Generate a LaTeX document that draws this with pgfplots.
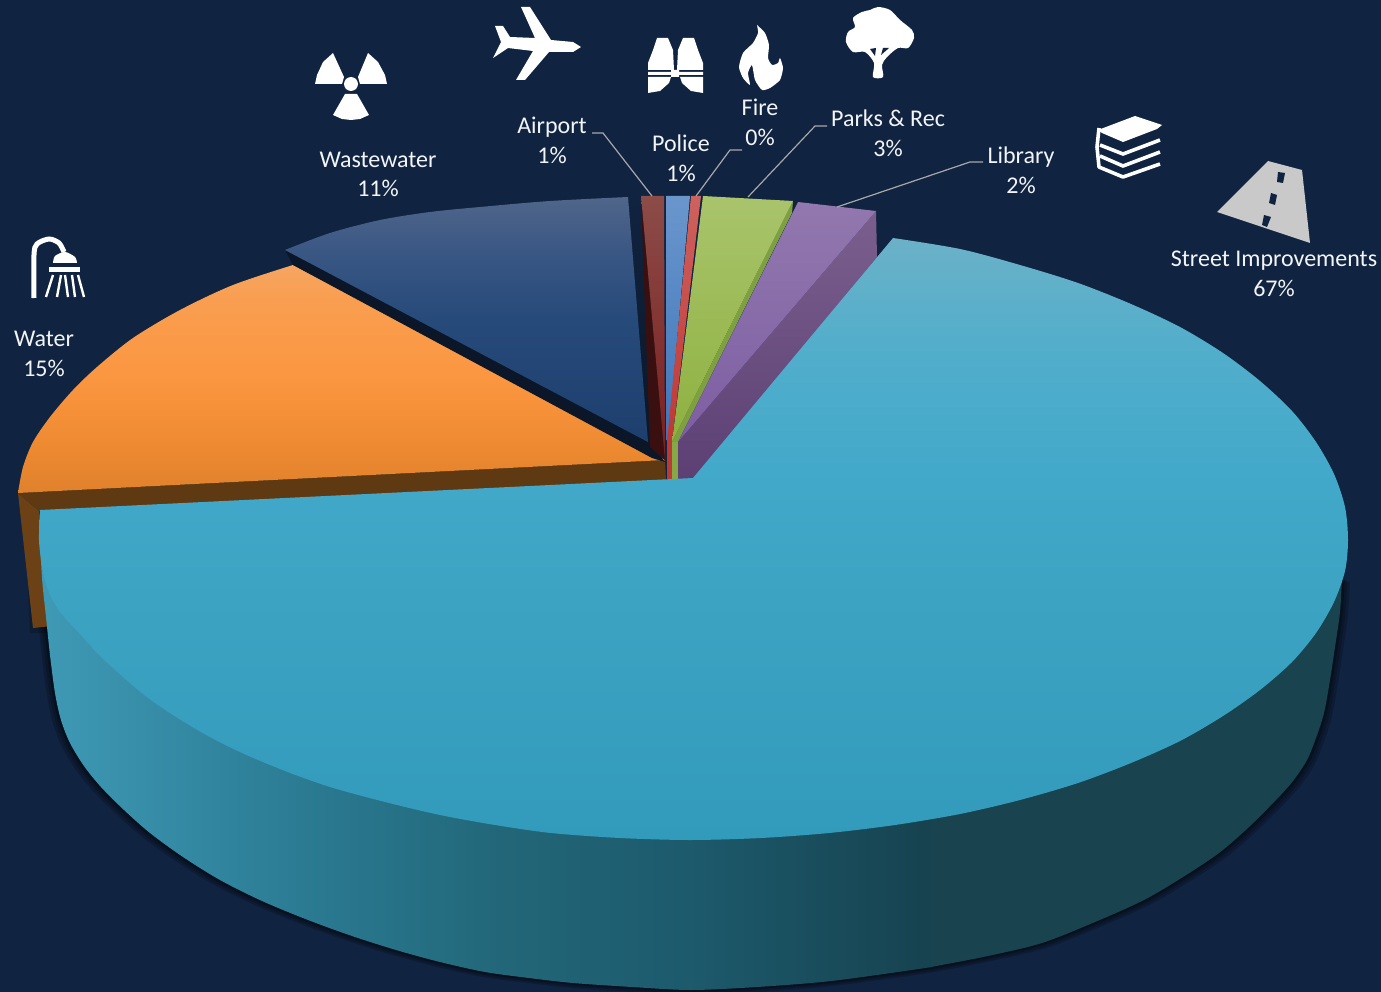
\documentclass[border=0pt]{standalone}
\usepackage{fontspec}
\setmainfont{Carlito}
\usepackage{pgfplots}
\usepackage{pgfplotstable}
\pgfplotsset{compat=1.18}

\definecolor{bgc}{HTML}{102340}
\definecolor{leader}{HTML}{A8A8A8}
\definecolor{lbl}{HTML}{F2F4F6}
\definecolor{road}{HTML}{C9C9C9}
\definecolor{cutdark}{HTML}{0B1728}

% top face of the big slice
\definecolor{st1}{HTML}{6BB1C8}
\definecolor{st2}{HTML}{52AECB}
\definecolor{st3}{HTML}{43A9CA}
\definecolor{st4}{HTML}{3DA3C3}
\definecolor{st5}{HTML}{329ABB}
\pgfdeclareverticalshading{streettop}{100bp}{color(0bp)=(st5); color(25bp)=(st5); color(45bp)=(st4); color(56bp)=(st3); color(66bp)=(st2); color(75bp)=(st1); color(100bp)=(st1)}

% side wall of the big slice
\definecolor{sw1}{HTML}{3F9AB6}
\definecolor{sw2}{HTML}{2B7B93}
\definecolor{sw3}{HTML}{226779}
\definecolor{sw4}{HTML}{1C5A6C}
\definecolor{sw5}{HTML}{17424F}
\pgfdeclarehorizontalshading{streetside}{100bp}{color(0bp)=(sw1); color(25bp)=(sw1); color(39.6bp)=(sw2); color(50.8bp)=(sw3); color(61.4bp)=(sw4); color(75bp)=(sw5); color(100bp)=(sw5)}

% top face of water
\definecolor{or1}{HTML}{F6A562}
\definecolor{or2}{HTML}{F99E50}
\definecolor{or3}{HTML}{FB9640}
\definecolor{or4}{HTML}{EF8B32}
\definecolor{or5}{HTML}{E0812C}
\pgfdeclareverticalshading{watertop}{100bp}{color(0bp)=(or5); color(25bp)=(or5); color(36.6bp)=(or4); color(49.8bp)=(or3); color(67.3bp)=(or2); color(75bp)=(or1); color(100bp)=(or1)}

% top face of wastewater
\definecolor{ww1}{HTML}{50668A}
\definecolor{ww2}{HTML}{3A5784}
\definecolor{ww3}{HTML}{264A7A}
\definecolor{ww4}{HTML}{1E3F6E}
\pgfdeclareverticalshading{wastetop}{100bp}{color(0bp)=(ww4); color(25bp)=(ww4); color(50bp)=(ww3); color(64bp)=(ww2); color(75bp)=(ww1); color(100bp)=(ww1)}

% lower outline of the big slice, pixels
\pgfplotstableread{
x y
39 540
42 578
46 617
50 655
55 693
61 720
70 743
84 766
101 787
124 810
150 833
183 857
220 880
262 901
308 920
352 936
396 950
440 962
485 972
529 978
573 983
632 987
691 990
757 987
822 982
877 975
932 967
988 956
1042 943
1095 922
1144 900
1183 877
1219 853
1249 827
1276 800
1293 781
1307 760
1316 738
1324 713
1330 680
1335 647
1340 612
1342 577
}\outeredge

\begin{document}
\begin{tikzpicture}
\begin{axis}[
  width=1381pt, height=992pt, scale only axis,
  xmin=0, xmax=1381, ymin=0, ymax=992,
  y dir=reverse, hide axis,
]
% background
\addplot[fill=bgc, draw=none] coordinates {(0,0) (1381,0) (1381,992) (0,992)} -- cycle;

% soft shadow under the big slice
\addplot[fill=black, opacity=.18, draw=none, smooth] table[x expr={691+(\thisrow{x}-691)*1.012}, y expr={\thisrow{y}+5}] {\outeredge} -- cycle;
\addplot[fill=black, opacity=.2, draw=none, smooth] table[x expr={691+(\thisrow{x}-691)*1.008}, y expr={\thisrow{y}+3.4}] {\outeredge} -- cycle;
\addplot[fill=black, opacity=.25, draw=none, smooth] table[x expr={691+(\thisrow{x}-691)*1.004}, y expr={\thisrow{y}+1.7}] {\outeredge} -- cycle;

% water
\addplot[fill=black, opacity=.2, draw=none] coordinates {(28,590) (30,633) (50,633) (50,590)} -- cycle;
\addplot[fill={rgb,255:red,107;green,65;blue,21}, draw=none] coordinates {(18,493) (33,628) (52,626) (39,511)} -- cycle;
\addplot[fill={rgb,255:red,95;green,57;blue,17}, draw=none] coordinates {(18,493) (665,460) (666,480) (39,511)} -- cycle;
\addplot[shade, shading=watertop, draw=none, smooth]
  coordinates {(18,493) (23,467) (33,442) (50,417) (73,390) (97,367) (133,338) (180,310) (233,285) (293,265)} -- (axis cs:665,460) -- cycle;

% wastewater, with its dark cut faces
\addplot[fill=cutdark, draw=none] coordinates {(285,250) (293,265) (652,458) (665,462) (648,442)} -- cycle;
\addplot[top color=bgc, bottom color=cutdark, draw=none] coordinates {(628,197) (641,196) (652,450) (648,442)} -- cycle;
\addplot[shade, shading=wastetop, draw=none, smooth]
  coordinates {(285,250) (330,233) (380,220) (430,212) (480,207) (550,201) (628,197)} -- (axis cs:648,442) -- cycle;

% airport
\addplot[fill={rgb,255:red,58;green,15;blue,15}, draw=none] coordinates {(641,196) (650,447) (665,460)} -- cycle;
\addplot[top color={rgb,255:red,140;green,76;blue,72}, bottom color={rgb,255:red,122;green,30;blue,30}, draw=none] coordinates {(641,196) (664,196) (665,460)} -- cycle;

% police
\addplot[top color={rgb,255:red,106;green,150;blue,204}, bottom color={rgb,255:red,62;green,118;blue,186}, draw=none] coordinates {(666,196) (690,196) (668,440) (666,440)} -- cycle;

% fire
\addplot[top color={rgb,255:red,206;green,98;blue,94}, bottom color={rgb,255:red,190;green,56;blue,54}, draw=none] coordinates {(691,196) (701,196) (672,441) (667,441)} -- cycle;
\addplot[fill={rgb,255:red,185;green,58;blue,54}, draw=none] coordinates {(667,440) (672,440) (672,479) (667,479)} -- cycle;

% parks & rec
\addplot[fill={rgb,255:red,127;green,160;blue,64}, draw=none] coordinates {(793,201) (792,213) (678,442) (672,442)} -- cycle;
\addplot[top color={rgb,255:red,169;green,196;blue,108}, middle color={rgb,255:red,154;green,186;blue,80}, bottom color={rgb,255:red,142;green,177;blue,64}, draw=none] coordinates {(703,196) (793,201) (672,442)} -- cycle;
\addplot[fill={rgb,255:red,134;green,168;blue,69}, draw=none] coordinates {(672,442) (678,442) (678,479) (672,479)} -- cycle;

% library
\addplot[top color={rgb,255:red,122;green,95;blue,142}, bottom color={rgb,255:red,92;green,64;blue,116}, draw=none] coordinates {(876,211) (877,257) (693,480) (678,480) (678,442)} -- cycle;
\addplot[top color={rgb,255:red,146;green,120;blue,174}, bottom color={rgb,255:red,125;green,94;blue,163}, draw=none] coordinates {(798,202) (876,211) (678,442)} -- cycle;

% street improvements: side wall, then the top face
\addplot[shade, shading=streetside, draw=none, smooth]
  coordinates {(39,520) (42,578) (46,617) (50,655) (55,693) (61,720) (70,743) (84,766) (101,787) (124,810) (150,833) (183,857) (220,880) (262,901) (308,920) (352,936) (396,950) (440,962) (485,972) (529,978) (573,983) (632,987) (691,990) (757,987) (822,982) (877,975) (932,967)} -- (axis cs:932,600) -- cycle;
\addplot[fill={rgb,255:red,24;green,67;blue,79}, draw=none, smooth]
  coordinates {(931,967) (988,956) (1042,943) (1095,922) (1144,900) (1183,877) (1219,853) (1249,827) (1276,800) (1293,781) (1307,760) (1316,738) (1324,713) (1330,680) (1335,647) (1340,612) (1342,577)} -- (axis cs:931,600) -- cycle;
\addplot[shade, shading=streettop, draw=none, smooth]
  coordinates {(893,238) (960,249) (1020,265) (1078,283) (1131,304) (1180,327) (1223,353) (1260,381) (1292,411) (1316,442) (1334,474) (1345,507) (1348,540) (1345,571) (1334,602) (1316,633) (1292,662) (1260,690) (1223,716) (1180,741) (1131,763) (1078,783) (1020,800) (960,814) (895,825) (829,833) (761,838) (690,840) (620,838) (551,833) (495,825) (440,815) (385,802) (330,787) (285,771) (242,753) (208,736) (176,717) (148,698) (123,677) (100,656) (79,633) (60,612) (48,590) (42,566) (39,540) (40,510)} -- (axis cs:693,478) -- cycle;

% leader lines
\addplot[leader, line width=1.2pt] coordinates {(592,133) (603,133) (652,196)};
\addplot[leader, line width=1.2pt] coordinates {(742,150) (730,150) (696,196)};
\addplot[leader, line width=1.2pt] coordinates {(827,126) (815,126) (748,197)};
\addplot[leader, line width=1.2pt] coordinates {(983,162) (970,162) (837,207)};

% icons: radiation
\addplot[fill=white, draw=none] coordinates {(344,77) (333,53) (323,62) (317,75) (315,84) (342,84)} -- cycle;
\addplot[fill=white, draw=none] coordinates {(358,77) (368,53) (378,62) (385,75) (387,84) (360,84)} -- cycle;
\addplot[fill=white, draw=none] coordinates {(345,94) (357,94) (369,115) (360,119) (351,120) (342,119) (333,115)} -- cycle;
\addplot[fill=white, draw=none, smooth cycle] coordinates {(358,84) (356,89) (351,91) (346,89) (344,84) (346,79) (351,77) (356,79)};
% plane
\addplot[fill=white, draw=none] coordinates {(521,7) (530,7) (551,40) (573,42) (581,47) (573,52) (549,52) (525,80) (516,80) (533,51) (508,48) (493,58) (501,42) (495,26) (503,26) (510,37) (535,38)} -- cycle;
% vest
\addplot[fill=white, draw=none] coordinates {(657,38) (668,38) (673,50) (674,70) (648,70) (648,63) (653,50)} -- cycle;
\addplot[fill=white, draw=none] coordinates {(694,38) (683,38) (678,50) (677,70) (703,70) (703,63) (698,50)} -- cycle;
\addplot[fill=white, draw=none] coordinates {(648,72) (671,72) (671,70) (679,70) (679,72) (703,72) (703,75) (679,75) (679,77) (671,77) (671,75) (648,75)} -- cycle;
\addplot[fill=white, draw=none] coordinates {(648,77) (671,77) (669,83) (660,91) (648,93)} -- cycle;
\addplot[fill=white, draw=none] coordinates {(703,77) (680,77) (682,83) (691,91) (703,93)} -- cycle;
% flame
\addplot[fill=white, draw=none, smooth, tension=0.35] coordinates {(757,25) (765,33) (769,45) (768,58) (772,65) (778,63) (780,58) (783,68) (780,80) (770,88) (762,90) (755,80) (752,65) (748,73) (750,85) (743,78) (739,67) (743,53) (753,43) (758,33) (757,25)} -- cycle;
% tree
\addplot[fill=white, draw=none, smooth cycle] coordinates {(878,7) (890,10) (900,20) (912,30) (914,38) (908,48) (898,48) (887,57) (882,65) (883,77) (873,77) (874,63) (865,52) (853,52) (846,42) (848,32) (855,27) (853,18) (862,12) (870,10)};
\addplot[fill=bgc, draw=none] coordinates {(870,49) (876,48) (875,56)} -- cycle;
\addplot[fill=bgc, draw=none] coordinates {(883,48) (889,48) (881,55)} -- cycle;
% shower
\addplot[white, line width=5pt, smooth] coordinates {(34,298) (34,255) (37,244) (49,239) (59,243) (64,252)};
\addplot[fill=white, draw=none, smooth] coordinates {(53,263) (55,256) (65,252) (75,257) (77,263)} -- cycle;
\addplot[fill=white, draw=none] coordinates {(49,267) (80,267) (80,272) (49,272)} -- cycle;
\addplot[white, line width=2.4pt] coordinates {(53,275) (46,297)};
\addplot[white, line width=2.4pt] coordinates {(61,275) (57,297)};
\addplot[white, line width=2.4pt] coordinates {(65,275) (68,297)};
\addplot[white, line width=2.4pt] coordinates {(72,275) (75,297)};
\addplot[white, line width=2.4pt] coordinates {(78,275) (84,297)};
% books
\addplot[fill=white, draw=none] coordinates {(1135,116) (1162,125) (1157,129) (1123,142) (1102,133) (1098,130)} -- cycle;
\addplot[white, line width=3.6pt, line join=round] coordinates {(1099,128) (1097,147) (1099,167) (1123,177) (1160,164)};
\addplot[white, line width=3.6pt] coordinates {(1100,145) (1123,154) (1160,140)};
\addplot[white, line width=3.6pt] coordinates {(1100,156) (1123,166) (1160,152)};
% road
\addplot[fill=road, draw=none] coordinates {(1268,161) (1302,170) (1310,243) (1217,212)} -- cycle;
\addplot[fill=bgc, draw=none] coordinates {(1278,172) (1285,173) (1283,183) (1277,182)} -- cycle;
\addplot[fill=bgc, draw=none] coordinates {(1271,193) (1277,195) (1275,205) (1269,203)} -- cycle;
\addplot[fill=bgc, draw=none] coordinates {(1264,215) (1271,217) (1267,227) (1262,225)} -- cycle;

% labels
\tikzset{lab/.style={text=lbl, font=\fontsize{24}{29.5}\selectfont, align=center, inner sep=0pt, anchor=center}}
\node[lab] at (axis cs:378,174.5) {Wastewater\\11\%};
\node[lab] at (axis cs:552,140.5) {Airport\\1\%};
\node[lab] at (axis cs:681,158.5) {Police\\1\%};
\node[lab] at (axis cs:760,122.5) {Fire\\0\%};
\node[lab] at (axis cs:888,133.5) {Parks \& Rec\\3\%};
\node[lab] at (axis cs:1021,170.5) {Library\\2\%};
\node[lab] at (axis cs:1274,274) {Street Improvements\\67\%};
\node[lab] at (axis cs:44,354) {Water\\15\%};
\end{axis}
\end{tikzpicture}
\end{document}
